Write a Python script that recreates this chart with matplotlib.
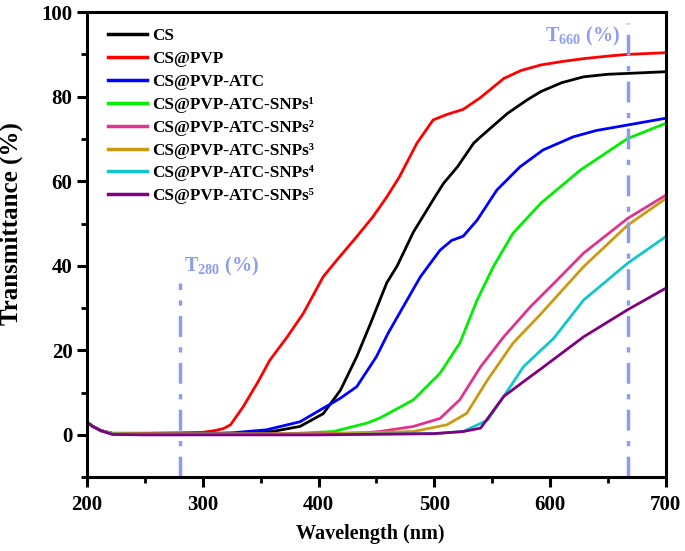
import matplotlib
matplotlib.use("Agg")
import matplotlib.pyplot as plt
from matplotlib.ticker import MultipleLocator

plt.rcParams['font.family'] = ['Liberation Serif', 'DejaVu Serif']
plt.rcParams['font.weight'] = 'bold'
plt.rcParams['mathtext.fontset'] = 'custom'
plt.rcParams['mathtext.rm'] = 'Liberation Serif:bold'
plt.rcParams['mathtext.bf'] = 'Liberation Serif:bold'

labels = ["CS", "CS@PVP", "CS@PVP-ATC", "CS@PVP-ATC-SNPs\u00b9", "CS@PVP-ATC-SNPs\u00b2",
          "CS@PVP-ATC-SNPs\u00b3", "CS@PVP-ATC-SNPs\u2074", "CS@PVP-ATC-SNPs\u2075"]
colors = ["#000000", "#FF0000", "#0000FF", "#00EE00", "#E0338F", "#CC9910", "#10C8CC", "#800080"]

cs_x = [200, 205, 212, 222, 250, 300, 340, 360, 384, 404, 419, 433, 445, 453, 459, 468, 482, 499, 508, 520, 534, 540, 563, 580, 592, 610, 629, 650, 667, 700]
cs_y = [3.0, 2.0, 1.0, 0.3, 0.2, 0.2, 0.4, 0.8, 2.0, 5.0, 10.6, 18.5, 26.4, 31.9, 36, 40, 48, 55.6, 59.5, 63.4, 69, 70.5, 76, 79.2, 81.2, 83.3, 84.7, 85.3, 85.5, 85.9]

pvp_x = [200, 205, 212, 222, 250, 280, 300, 310, 318, 324, 335, 347, 358, 373, 387, 404, 416, 433, 447, 459, 470, 485, 499, 511, 525, 540, 560, 575, 592, 610, 629, 650, 667, 700]
pvp_y = [3.0, 2.0, 1.0, 0.4, 0.4, 0.5, 0.6, 1.0, 1.5, 2.4, 6.7, 12.2, 17.7, 23.2, 28.8, 37.4, 41.4, 46.9, 51.6, 56.3, 61.1, 69, 74.5, 75.8, 77, 79.8, 84.3, 86.2, 87.5, 88.3, 89.0, 89.6, 90.0, 90.4]

atc_x = [200, 205, 212, 222, 250, 300, 326, 355, 384, 404, 419, 433, 450, 460, 470, 488, 505, 515, 525, 537, 554, 574, 594, 620, 640, 667, 700]
atc_y = [3.0, 2.0, 1.0, 0.3, 0.2, 0.3, 0.5, 1.2, 3.1, 6.3, 8.7, 11.4, 18.5, 24, 28.8, 37.4, 43.7, 46, 47, 50.8, 57.9, 63.4, 67.4, 70.5, 72, 73.3, 74.9]

s1_x = [200, 205, 212, 222, 250, 300, 360, 384, 413, 442, 453, 470, 482, 505, 522, 537, 551, 568, 592, 626, 650, 667, 700]
s1_y = [3.0, 2.0, 1.0, 0.3, 0.2, 0.2, 0.2, 0.4, 0.8, 2.8, 4.0, 6.5, 8.3, 14.6, 21.7, 31.9, 39.8, 47.7, 54.8, 62.6, 67, 70.1, 73.7]

s2_x = [200, 205, 212, 222, 250, 300, 400, 440, 453, 482, 505, 522, 540, 560, 583, 606, 629, 667, 700]
s2_y = [3.0, 2.0, 1.0, 0.3, 0.2, 0.2, 0.3, 0.5, 0.8, 2.0, 3.9, 8.3, 16.1, 23.2, 30.3, 36.6, 43, 51.2, 56.7]

s3_x = [200, 205, 212, 222, 250, 300, 400, 482, 511, 528, 546, 568, 592, 629, 667, 700]
s3_y = [3.0, 2.0, 1.0, 0.3, 0.2, 0.2, 0.2, 0.8, 2.4, 5.1, 13, 21.7, 28.6, 39.8, 49.6, 55.9]

s4_x = [200, 205, 212, 222, 250, 300, 400, 500, 525, 546, 560, 577, 592, 603, 629, 667, 700]
s4_y = [3.0, 2.0, 1.0, 0.2, 0.1, 0.1, 0.1, 0.3, 0.8, 3.5, 9.1, 16.1, 20.0, 22.8, 31.9, 40.6, 46.9]

s5_x = [200, 205, 212, 222, 250, 300, 400, 500, 525, 540, 560, 583, 592, 629, 667, 700]
s5_y = [3.0, 2.0, 1.0, 0.1, 0.0, 0.0, 0.0, 0.3, 0.8, 1.6, 9.1, 13.8, 15.6, 23.2, 29.6, 34.7]

series_x = [cs_x, pvp_x, atc_x, s1_x, s2_x, s3_x, s4_x, s5_x]
series_y = [cs_y, pvp_y, atc_y, s1_y, s2_y, s3_y, s4_y, s5_y]

fig = plt.figure(figsize=(6.85, 5.51), dpi=100)
ax = fig.add_axes([0.127, 0.134, 0.845, 0.844])

for xs, ys, c, lab in zip(series_x, series_y, colors, labels):
    ax.plot(xs, ys, color=c, lw=2.0, label=lab)

ref_color = "#8C9CF0"
ax.plot([280, 280], [-10, 36], color=ref_color, lw=2.5, ls=(0, (6, 3, 1.5, 3)))
ax.plot([667, 667], [-10, 97.5], color=ref_color, lw=2.5, ls=(0, (6, 3, 1.5, 3)))
ax.text(284, 37, r"T$_{280}$ (%)", color=ref_color, fontsize=14.5, fontweight='bold', va='bottom', ha='left')
ax.text(660, 91.5, r"T$_{660}$ (%)", color=ref_color, fontsize=14.5, fontweight='bold', va='bottom', ha='right')

ax.set_xlim(200, 700)
ax.set_ylim(-10, 100)
ax.xaxis.set_major_locator(MultipleLocator(100))
ax.xaxis.set_minor_locator(MultipleLocator(50))
ax.yaxis.set_major_locator(MultipleLocator(20))
ax.yaxis.set_minor_locator(MultipleLocator(10))
ax.tick_params(which='major', direction='out', length=7, width=2.2, labelsize=15)
ax.tick_params(axis='x', which='major', pad=6)
ax.tick_params(axis='y', which='major', pad=3.5)
ax.tick_params(which='minor', direction='out', length=4, width=2.0)
ax.tick_params(top=False, right=False, which='both')
for lbl in ax.get_xticklabels() + ax.get_yticklabels():
    lbl.set_fontweight('bold')
for sp in ax.spines.values():
    sp.set_linewidth(2.2)

ax.set_xlabel("Wavelength (nm)", fontsize=14.5, fontweight='bold')
ax.set_ylabel("Transmittance (%)", fontsize=18, fontweight='bold')
ax.xaxis.set_label_coords(0.49, -0.10)
ax.yaxis.set_label_coords(-0.111, 0.546)

leg = ax.legend(loc='upper left', bbox_to_anchor=(0.01, 0.998), frameon=False,
                handlelength=2.3, handletextpad=0.3, labelspacing=0.40,
                prop={'weight': 'bold', 'size': 12.3})
for h in leg.get_lines():
    h.set_linewidth(2.5)

fig.savefig("out.png", dpi=100)
